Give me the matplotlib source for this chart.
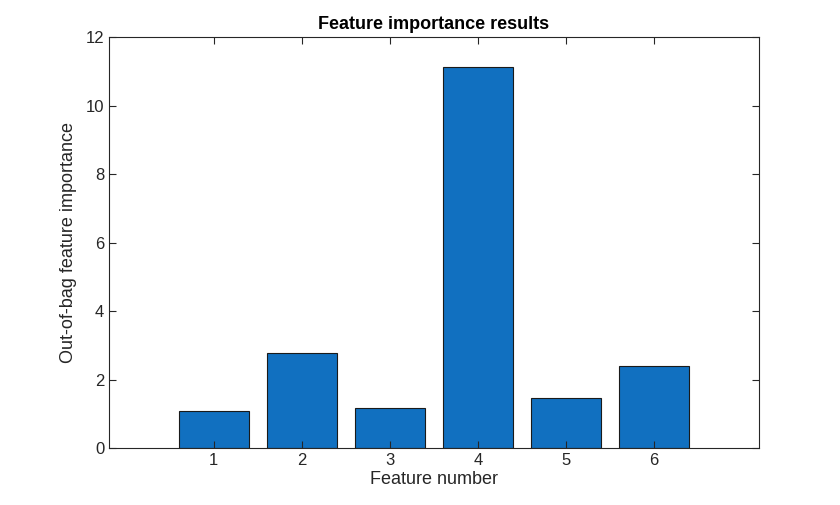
import matplotlib
matplotlib.use("Agg")
import matplotlib.pyplot as plt

features = [1, 2, 3, 4, 5, 6]
importance = [1.08, 2.77, 1.17, 11.12, 1.46, 2.39]
yticks = [0, 2, 4, 6, 8, 10, 12]

plt.rcParams['font.family'] = ['Arial', 'Liberation Sans', 'DejaVu Sans']
fig = plt.figure(figsize=(8.4, 5.05), dpi=100)
ax = fig.add_axes([109/840, 57/505, 650/840, 411/505])
ax.bar(features, importance, width=0.8, color='#1170C0', edgecolor='#1a1a1a', linewidth=0.8)
ax.set_xlim(-0.19, 7.19)
ax.set_ylim(0, 12)
ax.set_xticks(features)
ax.set_yticks(yticks)
ax.tick_params(direction='in', top=True, right=True, labelsize=12, colors='#262626', length=5)
for s in ax.spines.values():
    s.set_color('#262626'); s.set_linewidth(0.8)
ax.set_title('Feature importance results', fontsize=13, fontweight='bold', color='#000000', pad=6)
ax.set_xlabel('Feature number', fontsize=13, color='#262626', labelpad=2)
ax.set_ylabel('Out-of-bag feature importance', fontsize=13, color='#262626', labelpad=6)
fig.savefig('out.png', dpi=100)
